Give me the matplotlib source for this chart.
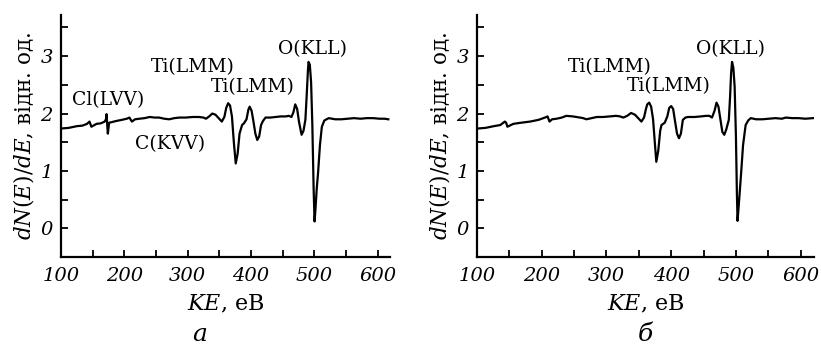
import matplotlib.pyplot as plt
from matplotlib.ticker import MultipleLocator

plt.rcParams['font.family'] = ['DejaVu Serif']
plt.rcParams['mathtext.fontset'] = 'dejavuserif'

# спектр (а): енергія, еВ / dN(E)/dE
ke_a = [101, 112, 125, 134, 141, 145, 148, 156, 163, 169, 171, 172, 173, 174, 176, 180,
        187, 196, 204, 208, 212, 217, 224, 232, 240, 248, 255, 263, 271, 279, 287,
        297, 308, 318, 325, 329, 334, 339, 344, 349, 354, 358, 361, 364, 367, 370,
        373, 376, 379, 382, 386, 389, 393, 396, 398, 401, 404, 407, 410, 413, 416,
        419, 423, 431, 439, 447, 455, 460, 464, 467, 470, 473, 476, 480, 483, 486,
        488, 490, 491, 493, 495, 497, 499, 500.5, 502, 504, 506, 509, 512, 516,
        523, 533, 543, 553, 563, 573, 583, 593, 603, 611, 617]
val_a = [1.74, 1.75, 1.78, 1.79, 1.82, 1.86, 1.77, 1.82, 1.83, 1.86, 1.90, 1.99, 1.80, 1.65,
         1.84, 1.85, 1.87, 1.89, 1.91, 1.93, 1.86, 1.90, 1.91, 1.92, 1.94, 1.93, 1.93,
         1.91, 1.90, 1.92, 1.93, 1.93, 1.94, 1.94, 1.93, 1.91, 1.95, 2.00, 1.98, 1.92,
         1.86, 1.94, 2.10, 2.18, 2.14, 1.95, 1.50, 1.13, 1.30, 1.65, 1.80, 1.83, 1.90,
         2.07, 2.12, 2.05, 1.86, 1.65, 1.54, 1.60, 1.80, 1.87, 1.93, 1.93, 1.94, 1.95,
         1.95, 1.96, 1.94, 2.02, 2.16, 2.08, 1.85, 1.63, 1.70, 1.89, 2.30, 2.75, 2.90,
         2.85, 2.55, 1.80, 0.70, 0.12, 0.35, 0.70, 0.96, 1.45, 1.77, 1.88, 1.92, 1.90,
         1.90, 1.91, 1.92, 1.91, 1.92, 1.92, 1.91, 1.91, 1.90]

# спектр (б)
ke_b = [102, 113, 126, 136, 143, 145, 147, 156, 168, 182, 195, 205, 209, 212, 216, 223,
        231, 238, 248, 259, 264, 269, 277, 285, 295, 305, 315, 321, 326, 332, 338, 344,
        349, 354, 358, 361, 363, 366, 369, 372, 375, 377, 380, 383, 385, 390, 394, 397,
        400, 403, 406, 409, 412, 415, 418, 422, 426, 436, 446, 454, 459, 463, 467, 470,
        473, 476, 479, 482, 485, 489, 491, 492.5, 494, 496, 498, 500, 501.5, 502.5,
        504, 506, 508, 511, 515, 519, 523, 531, 541, 551, 561, 571, 577, 587, 597, 607,
        619]
val_b = [1.74, 1.75, 1.78, 1.80, 1.86, 1.84, 1.77, 1.82, 1.84, 1.86, 1.89, 1.93, 1.95,
         1.86, 1.90, 1.91, 1.93, 1.96, 1.95, 1.93, 1.92, 1.90, 1.92, 1.94, 1.94, 1.95,
         1.96, 1.95, 1.93, 1.96, 2.01, 1.98, 1.92, 1.86, 1.93, 2.08, 2.16, 2.19, 2.12,
         1.90, 1.45, 1.16, 1.35, 1.70, 1.80, 1.84, 1.95, 2.10, 2.13, 2.08, 1.86, 1.65,
         1.57, 1.65, 1.89, 1.93, 1.94, 1.94, 1.95, 1.96, 1.96, 1.93, 2.05, 2.19, 2.12,
         1.90, 1.68, 1.63, 1.72, 1.89, 2.30, 2.70, 2.90, 2.80, 2.47, 1.60, 0.60, 0.13,
         0.35, 0.65, 0.96, 1.45, 1.80, 1.88, 1.92, 1.90, 1.90, 1.91, 1.92, 1.91, 1.93,
         1.92, 1.92, 1.91, 1.92]

labels_a = [('Cl(LVV)', 174, 2.23), ('C(KVV)', 272, 1.47), ('Ti(LMM)', 308, 2.81),
            ('Ti(LMM)', 403, 2.46), ('O(KLL)', 497, 3.12)]
labels_b = [('Ti(LMM)', 305, 2.81), ('Ti(LMM)', 397, 2.48), ('O(KLL)', 492, 3.12)]

fig = plt.figure(figsize=(8.21, 3.45), dpi=100)
ax_a = fig.add_axes([0.0743, 0.255, 0.401, 0.702])
ax_b = fig.add_axes([0.581, 0.255, 0.410, 0.702])


def draw_panel(ax, ke, val, labels):
    ax.plot(ke, val, color='black', lw=1.6)
    ax.set_xlim(100, 620)
    ax.set_ylim(-0.5, 3.72)
    for s in ['top', 'right']:
        ax.spines[s].set_visible(False)
    for s in ['left', 'bottom']:
        ax.spines[s].set_linewidth(1.6)
    ax.xaxis.set_major_locator(MultipleLocator(100))
    ax.xaxis.set_minor_locator(MultipleLocator(50))
    ax.yaxis.set_major_locator(MultipleLocator(1))
    ax.yaxis.set_minor_locator(MultipleLocator(0.5))
    ax.tick_params(which='both', direction='in', width=1.3, length=5)
    ax.tick_params(axis='x', labelsize=14, pad=7)
    ax.tick_params(axis='y', labelsize=14, pad=6)
    for t in ax.get_xticklabels() + ax.get_yticklabels():
        t.set_fontstyle('italic')
    for txt, x, y in labels:
        ax.text(x, y, txt, ha='center', va='center', fontsize=13.5)
    ax.set_xlabel('$KE$, еВ', fontsize=16, labelpad=6)
    ax.set_ylabel('$dN(E)/dE$, відн. од.', fontsize=15.5, labelpad=3)


draw_panel(ax_a, ke_a, val_a, labels_a)
draw_panel(ax_b, ke_b, val_b, labels_b)

fig.text(200 / 821, 0.03, 'а', ha='center', va='center', fontsize=18, fontstyle='italic')
fig.text(645 / 821, 0.03, 'б', ha='center', va='center', fontsize=18, fontstyle='italic')

fig.savefig('out.png', dpi=100)
